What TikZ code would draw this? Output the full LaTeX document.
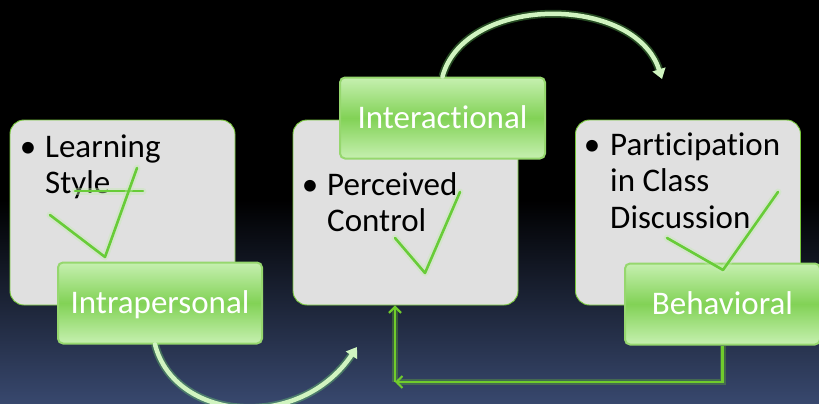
\documentclass[tikz,border=0pt]{standalone}
\usepackage{fontspec}
\setmainfont{Carlito}[Ligatures=NoCommon]
\usetikzlibrary{arrows.meta,calc}
\definecolor{bgblue}{RGB}{56,72,110}
\definecolor{boxgray}{RGB}{224,224,224}
\definecolor{edgegreen}{RGB}{118,198,58}
\definecolor{labtop}{RGB}{198,240,176}
\definecolor{labmid}{RGB}{130,210,86}
\definecolor{labglow}{RGB}{150,215,110}
\definecolor{arcgreen}{RGB}{208,244,192}
\definecolor{linkgreen}{RGB}{112,204,44}
\definecolor{tickgreen}{RGB}{104,204,56}
\begin{document}
\begin{tikzpicture}[x=1pt,y=-1pt,
  itembox/.style={draw=edgegreen, line width=0.9pt, fill=boxgray,
    rounded corners=14pt, minimum width=225pt, minimum height=185pt, inner sep=0pt},
  tag/.style={rounded corners=5pt, top color=labtop, bottom color=labtop,
    middle color=labmid, text=white, font=\fontsize{33}{36}\selectfont,
    minimum height=81pt, inner sep=0pt, text height=24pt, text depth=4pt,
    draw=labglow, line width=2pt},
  itemtext/.style={anchor=base west, align=left, inner sep=0pt,
    font=\fontsize{33}{36.5}\selectfont, text=black},
  dot/.style={anchor=base, inner sep=0pt, font=\fontsize{33}{36}\selectfont},
  arcline/.style={draw=arcgreen, line width=4.5pt, line cap=round,
    -{Triangle[length=10pt,width=13pt]},
    preaction={draw=arcgreen!60!green, line width=8pt, opacity=0.3}},
  linkline/.style={draw=linkgreen, line width=2.2pt,
    -{Straight Barb[length=6pt,width=12pt,line width=2pt]},
    preaction={draw=linkgreen, line width=6pt, opacity=0.3}},
  tick/.style={draw=tickgreen, line width=2.6pt, line cap=round, line join=round,
    preaction={draw=tickgreen!40!white, line width=7pt, opacity=0.4, line cap=round, line join=round}}
]
\useasboundingbox (0,0) rectangle (819,404);
\clip (0,0) rectangle (819,404);

% backdrop: black fading into dark blue towards the bottom
\fill[black] (0,0) rectangle (819,201);
\shade[top color=black, bottom color=bgblue] (0,200) rectangle (819,404);

% content boxes
\node[itembox] (box1) at (122.5,212.5) {};
\node[itembox] (box2) at (405.5,212.5) {};
\node[itembox] (box3) at (688,212.5) {};

% bullet texts (anchored on the baseline of their last line)
\node[dot] (b1) at (28,157) {\textbullet};
\node[itemtext] (t1) at (45,193.5) {Learning\\Style};
\node[dot] (b2) at (310,195) {\textbullet};
\node[itemtext] (t2) at (327,231.5) {Perceived\\Control};
\node[dot] (b3) at (592,155) {\textbullet};
\node[itemtext] (t3) at (610,228) {Participation\\in Class\\Discussion};

% category tags
\node[tag, minimum width=204pt] (lab1) at (160,303) {Intrapersonal};
\node[tag, minimum width=205pt] (lab2) at (442.5,118) {Interactional};
\node[tag, minimum width=195pt] (lab3) at (722.5,304) {Behavioral};

% curved arrows
\coordinate (end1) at (357,347);
\coordinate (end2) at (662,79);
\draw[arcline] ($(lab1.south)+(-5,0)$) .. controls (175,422) and (300,432) .. (end1);
\draw[arcline] (lab2.north) .. controls (465,-6) and (635,-6) .. (end2);

% feedback link from Behavioral back to the middle box
\coordinate (corner) at (395,382);
\draw[linkline] (lab3.south) |- (corner);
\draw[linkline] (corner) -- (corner |- box2.south);

% check marks
\draw[tick] (75,191) -- (143,191);
\draw[tick] (50,215) -- (105,257) -- (137,168);
\draw[tick] (395,238) -- (425,273) -- (460,192);
\draw[tick] (667,238) -- (723,270) -- (778,192);
\end{tikzpicture}
\end{document}
